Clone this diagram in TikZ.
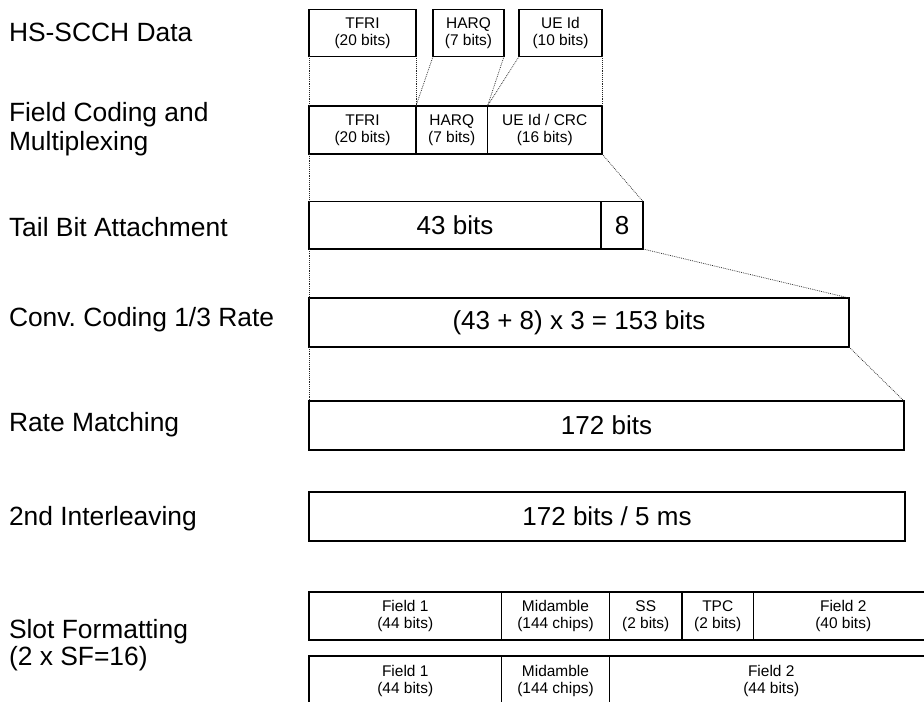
\documentclass[tikz,border=0pt]{standalone}
\usepackage{fontspec}
\setmainfont{Liberation Sans}
\frenchspacing
\newcommand\smallf{\fontsize{11.6}{12.9}\selectfont}
\newcommand\bigf{\fontsize{19.5}{22}\selectfont}
\newcommand\labf{\fontsize{19.8}{22}\selectfont}
\tikzset{
  every node/.style={inner sep=0pt, outer sep=0pt},
  box/.style={draw, line width=0.9pt, rectangle, align=center, font=\smallf},
  bigbox/.style={draw, line width=1.15pt, rectangle, align=center, font=\bigf},
  lab/.style={anchor=base west, font=\labf},
  dots/.style={line width=0.55pt, black!85, dash pattern=on 0.6pt off 0.8pt},
}
\newcommand\cell[7]{\node[#6, minimum width={(#4-#2)*0.75pt}, minimum height={(#5-#3)*0.75pt}] (#1) at ({(#2+#4)/2},{(#3+#5)/2}) {#7};}
\begin{document}
\begin{tikzpicture}[x=0.75pt,y=-0.75pt]
\useasboundingbox (0,0) rectangle (924,702);
\clip (0,0) rectangle (924,702);
% labels
\node[lab] (l1) at (9,41.7) {HS-SCCH Data};
\node[lab] (l2a) at (9,121.7) {Field Coding and};
\node[lab] (l2b) at (9,150.7) {Multiplexing};
\node[lab] (l3) at (9,236.7) {Tail Bit Attachment};
\node[lab] (l4) at (9,326.7) {Conv.\ Coding 1/3 Rate};
\node[lab] (l5) at (9,431) {Rate Matching};
\node[lab] (l6) at (9,525) {2nd Interleaving};
\node[lab] (l7a) at (9,638) {Slot Formatting};
\node[lab] (l7b) at (9,665) {(2 x SF=16)};
% boxes
\cell{t1}{309}{9.5}{416}{56.5}{box}{TFRI\\(20 bits)}
\cell{h1}{433}{9.5}{504}{56.5}{box}{HARQ\\(7 bits)}
\cell{u1}{519}{9.5}{602}{56.5}{box}{UE Id\\(10 bits)}
\cell{t2}{309}{106}{416}{154}{box}{TFRI\\(20 bits)}
\cell{h2}{416}{106}{487.5}{154}{box}{HARQ\\(7 bits)}
\cell{u2}{487.5}{106}{602}{154}{box}{UE Id / CRC\\(16 bits)}
\cell{b43}{309}{201.5}{601}{249}{bigbox}{43 bits}
\cell{b8}{601}{201.5}{643}{249}{bigbox}{8}
\cell{conv}{309}{298}{849}{347}{bigbox}{(43 + 8) x 3 = 153 bits}
\cell{rate}{309}{401}{904}{450}{bigbox}{172 bits}
\cell{il}{309}{492}{905}{541}{bigbox}{172 bits / 5 ms}
\cell{fa}{309}{592}{501.5}{640}{box}{Field 1\\(44 bits)}
\cell{ma}{501.5}{592}{609.5}{640}{box}{Midamble\\(144 chips)}
\cell{ss}{609.5}{592}{682}{640}{box}{SS\\(2 bits)}
\cell{tp}{682}{592}{753.5}{640}{box}{TPC\\(2 bits)}
\cell{fb}{753.5}{592}{933}{640}{box}{Field 2\\(40 bits)}
\cell{fc}{309}{656}{501.5}{706}{box}{Field 1\\(44 bits)}
\cell{mb}{501.5}{656}{609.5}{706}{box}{Midamble\\(144 chips)}
\cell{fd}{609.5}{656}{933}{706}{box}{Field 2\\(44 bits)}
% dotted connectors
\draw[dots] (t1.south west) -- (t2.north west);
\draw[dots] (t1.south east) -- (t2.north east);
\draw[dots] (h1.south west) -- (h2.north west);
\draw[dots] (h1.south east) -- (h2.north east);
\draw[dots] (u1.south west) -- (u2.north west);
\draw[dots] (u1.south east) -- (u2.north east);
\draw[dots] (t2.south west) -- (b43.north west);
\draw[dots] (u2.south east) -- (b8.north east);
\draw[dots] (b43.south west) -- (conv.north west);
\draw[dots] (b8.south east) -- (conv.north east);
\draw[dots] (conv.south west) -- (rate.north west);
\draw[dots] (conv.south east) -- (rate.north east);
\end{tikzpicture}
\end{document}
